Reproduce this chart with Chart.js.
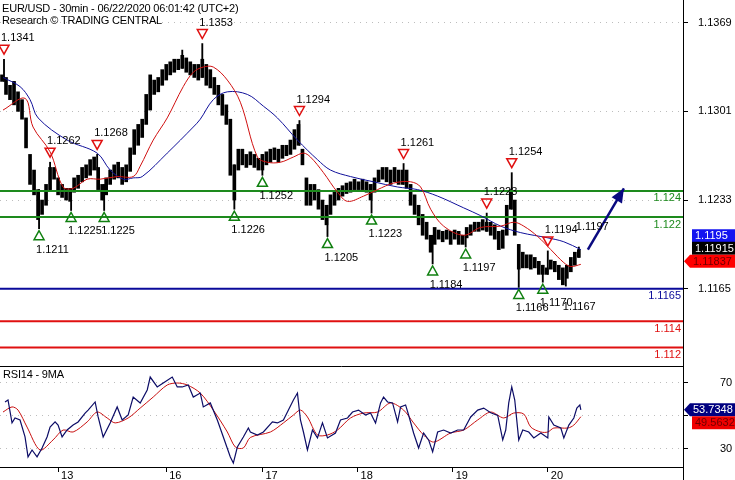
<!DOCTYPE html>
<html>
<head>
<meta charset="utf-8">
<title>EUR/USD 30min</title>
<script src="https://cdn.jsdelivr.net/npm/chart.js@4.4.1/dist/chart.umd.min.js"></script>
<style>
  html, body { margin: 0; padding: 0; background: #fff; }
  #chart { display: block; }
</style>
</head>
<body>
<canvas id="chart" width="735" height="480"></canvas>
<script>
// x unit = one hour slot since the first candle on screen
const dayTickHour = [14, 41, 65, 88.75, 112.5, 136.25];
const dayTickLabel = ['13', '16', '17', '18', '19', '20'];
const priceTicks = [1.1369, 1.1301, 1.1233, 1.1165];
const rsiTicks = [70, 50, 30];
const rsiTickLabel = ['70', '', '30'];

// candle bodies, one per hour slot
const bodyHigh = [
  1.1329, 1.1327, 1.1321, 1.1324, 1.1316, 1.1310, 1.1296, 1.1268, 1.1256, 1.1241,
  1.1233, 1.1245, 1.1258, 1.1258, 1.1250, 1.1245, 1.1242, 1.1242, 1.1250, 1.1252,
  1.1258, 1.1260, 1.1264, 1.1266, 1.1258, 1.1245, 1.1250, 1.1256, 1.1260, 1.1262,
  1.1258, 1.1260, 1.1273, 1.1287, 1.1291, 1.1295, 1.1314, 1.1329, 1.1325, 1.1327,
  1.1333, 1.1337, 1.1339, 1.1341, 1.1341, 1.1344, 1.1342, 1.1339, 1.1337, 1.1337,
  1.1341, 1.1337, 1.1333, 1.1327, 1.1321, 1.1314, 1.1306, 1.1295, 1.1260, 1.1272,
  1.1272, 1.1268, 1.1270, 1.1268, 1.1265, 1.1268, 1.1270, 1.1272, 1.1273, 1.1272,
  1.1275, 1.1275, 1.1279, 1.1287, 1.1291, 1.1272, 1.1250, 1.1245, 1.1245, 1.1241,
  1.1233, 1.1229, 1.1237, 1.1239, 1.1242, 1.1244, 1.1246, 1.1247, 1.1249, 1.1247,
  1.1249, 1.1247, 1.1245, 1.1250, 1.1256, 1.1258, 1.1258, 1.1256, 1.1258, 1.1256,
  1.1256, 1.1256, 1.1245, 1.1237, 1.1229, 1.1222, 1.1216, 1.1206, 1.1212, 1.1210,
  1.1209, 1.1210, 1.1209, 1.1210, 1.1209, 1.1206, 1.1212, 1.1214, 1.1216, 1.1216,
  1.1218, 1.1216, 1.1216, 1.1214, 1.1209, 1.1210, 1.1229, 1.1241, 1.1233, 1.1199,
  1.1193, 1.1191, 1.1191, 1.1189, 1.1186, 1.1183, 1.1181, 1.1187, 1.1186, 1.1183,
  1.1181, 1.1183, 1.1189, 1.1193, 1.1195
];
const bodyLow = [
  1.1324, 1.1314, 1.1310, 1.1306, 1.1301, 1.1295, 1.1273, 1.1245, 1.1237, 1.1218,
  1.1222, 1.1229, 1.1241, 1.1249, 1.1237, 1.1235, 1.1233, 1.1232, 1.1239, 1.1242,
  1.1247, 1.1250, 1.1252, 1.1256, 1.1241, 1.1233, 1.1237, 1.1245, 1.1249, 1.1250,
  1.1245, 1.1247, 1.1255, 1.1268, 1.1275, 1.1281, 1.1291, 1.1302, 1.1314, 1.1316,
  1.1321, 1.1325, 1.1329, 1.1331, 1.1333, 1.1334, 1.1331, 1.1329, 1.1327, 1.1325,
  1.1327, 1.1321, 1.1319, 1.1314, 1.1306, 1.1298, 1.1291, 1.1252, 1.1233, 1.1256,
  1.1260, 1.1258, 1.1260, 1.1258, 1.1256, 1.1256, 1.1260, 1.1262, 1.1264, 1.1262,
  1.1265, 1.1267, 1.1268, 1.1272, 1.1275, 1.1260, 1.1229, 1.1229, 1.1233, 1.1226,
  1.1218, 1.1214, 1.1222, 1.1229, 1.1233, 1.1236, 1.1238, 1.1239, 1.1241, 1.1241,
  1.1241, 1.1239, 1.1233, 1.1239, 1.1247, 1.1249, 1.1247, 1.1245, 1.1247, 1.1245,
  1.1245, 1.1242, 1.1229, 1.1222, 1.1214, 1.1206, 1.1203, 1.1193, 1.1199, 1.1203,
  1.1201, 1.1203, 1.1199, 1.1203, 1.1199, 1.1199, 1.1204, 1.1206, 1.1209, 1.1209,
  1.1210, 1.1209, 1.1206, 1.1203, 1.1195, 1.1196, 1.1206, 1.1226, 1.1206, 1.1180,
  1.1181, 1.1181, 1.1180, 1.1181, 1.1176, 1.1176, 1.1176, 1.1180, 1.1178, 1.1172,
  1.1168, 1.1173, 1.1178, 1.1183, 1.1189
];

// long shadows
const wickHour = [0.5, 9.25, 12, 17.25, 23.75, 25.5, 45, 50, 58, 65, 74.25, 81.25, 92.25, 100.25, 107.5, 115.75, 121, 127.25, 129, 135, 136.25, 140.75, 144];
const wickLow = [1.1324, 1.1211, 1.1241, 1.1225, 1.1256, 1.1225, 1.1334, 1.1327, 1.1226, 1.1252, 1.1275, 1.1205, 1.1223, 1.1245, 1.1184, 1.1197, 1.1209, 1.1226, 1.1166, 1.1170, 1.1176, 1.1167, 1.1189];
const wickHigh = [1.1341, 1.1241, 1.1262, 1.1242, 1.1268, 1.1245, 1.1348, 1.1353, 1.1260, 1.1268, 1.1294, 1.1229, 1.1245, 1.1261, 1.1206, 1.1206, 1.1223, 1.1254, 1.1199, 1.1183, 1.1194, 1.1181, 1.1197];
const lastClose = 1.11915;

const fastMaHour = [0.25, 5.75, 7.75, 12, 15.25, 17.75, 21.25, 24.5, 28.75, 32.75, 34.5, 37.75, 41.25, 45.25, 47.75, 50.25, 52.75, 56.25, 59.5, 63.75, 66.25, 69.5, 72.75, 75.25, 77, 80.25, 83.75, 86.25, 90.25, 93.75, 97.75, 102, 104.5, 107, 110.25, 115.25, 119.5, 124.5, 127.75, 130.25, 133.75, 137, 140.25, 142, 144.5];
const fastMa = [1.1302, 1.1311, 1.1289, 1.1270, 1.1243, 1.1242, 1.1249, 1.1249, 1.1251, 1.1251, 1.1259, 1.1279, 1.1296, 1.1320, 1.1331, 1.1335, 1.1335, 1.1325, 1.1308, 1.1266, 1.1262, 1.1262, 1.1266, 1.1269, 1.1266, 1.1254, 1.1239, 1.1232, 1.1236, 1.1241, 1.1246, 1.1247, 1.1243, 1.1226, 1.1213, 1.1206, 1.1212, 1.1213, 1.1216, 1.1213, 1.1205, 1.1195, 1.1185, 1.1182, 1.11837];

const slowMaHour = [0.25, 4.5, 7, 9, 16.25, 23.75, 27, 30.25, 32.75, 35, 41.25, 47.75, 49.5, 52.75, 56.25, 61.25, 65.25, 68.75, 73.75, 78.75, 82, 87, 92.75, 98.75, 103.75, 108.75, 115.25, 119.5, 124.5, 129.5, 136.25, 140.25, 144.5];
const slowMa = [1.1327, 1.1320, 1.1310, 1.1296, 1.1279, 1.1269, 1.1256, 1.1249, 1.1250, 1.1251, 1.1269, 1.1289, 1.1295, 1.1310, 1.1316, 1.1314, 1.1305, 1.1296, 1.1279, 1.1264, 1.1256, 1.1251, 1.1247, 1.1243, 1.1241, 1.1236, 1.1227, 1.1221, 1.1213, 1.1208, 1.1204, 1.1201, 1.1195];

// swing points
const highHour = [0.5, 12, 23.75, 50, 74.25, 100.25, 121, 127.25, 136.25];
const highPrice = [1.1341, 1.1262, 1.1268, 1.1353, 1.1294, 1.1261, 1.1223, 1.1254, 1.1194];
const lowHour = [9.25, 17.25, 25.5, 58, 65, 81.25, 92.25, 107.5, 115.75, 129, 135];
const lowPrice = [1.1211, 1.1225, 1.1225, 1.1226, 1.1252, 1.1205, 1.1223, 1.1184, 1.1197, 1.1166, 1.1170];
const openHighHour = [144];
const openHighPrice = [1.1197];
const openLowHour = [140.75];
const openLowPrice = [1.1167];

const levelValue = [1.124, 1.122, 1.1165, 1.114, 1.112];
const arrowHour = [146.25, 155.25];
const arrowPrice = [1.1195, 1.1242];

const rsiHour = [
  0.75, 1.5, 2.5, 3.25, 4.5, 5.75, 6.5, 7.5, 8.75, 10,
  11.25, 12, 13.25, 14, 15, 16.25, 17.75, 19, 20.75, 21.5,
  23.25, 24, 25.25, 27, 28.75, 30, 31.5, 32.75, 34.5, 36.25,
  37, 38.75, 40.25, 42.5, 43.75, 45, 46.5, 47.75, 49.5, 50.25,
  52, 53.75, 55.25, 57, 57.75, 58.75, 60.25, 61.5, 62, 63.75,
  65.25, 67.5, 68.75, 70.25, 71.5, 72.75, 73.75, 74.5, 75.25, 76.25,
  77.5, 78.75, 80, 81.25, 83.25, 84.5, 86.25, 87.5, 89, 90.75,
  92, 93.25, 94.5, 95.25, 96.25, 97.5, 98.75, 99.5, 100.75, 101.5,
  102.75, 104, 105.25, 106.5, 107.5, 108.75, 110.25, 112, 113.75, 115.25,
  117, 118.75, 120.25, 122, 123.75, 125, 125.75, 126.5, 127.25, 128,
  129, 130, 131.5, 132.75, 134.5, 136.25, 136.5, 137.75, 139.5, 140.25,
  141.5, 142.75, 143.5, 144.25, 144.5
];
const rsi = [
  58.5, 59.7, 45.8, 48.8, 47.6, 37.3, 25.2, 29.4, 25.2, 30.6,
  37.3, 43.3, 46.4, 44.5, 37.3, 41.5, 44.5, 46.4, 51.8, 53.6,
  58.5, 49.4, 37.3, 45.8, 55.5, 47.6, 50.6, 61.5, 57.9, 65.8,
  73.6, 67.6, 70, 73.6, 67.6, 67.6, 68.8, 61.5, 63.9, 55.5,
  57.9, 47.6, 37.3, 25.2, 21.5, 31.2, 37.3, 42.7, 40.3, 38.5,
  40.3, 46.4, 45.8, 47.6, 53.6, 59.7, 63.9, 47.6, 40.3, 29.4,
  41.5, 36.7, 45.8, 36.7, 39.7, 47.6, 48.8, 52.4, 53.6, 50.6,
  51.8, 45.8, 57.9, 61.5, 58.5, 57.9, 46.4, 55.5, 56.7, 50.6,
  39.7, 30.6, 39.7, 35.5, 28.2, 40.3, 41.5, 39.7, 41.5, 41.5,
  49.4, 53.6, 54.8, 52, 50.4, 35.5, 41.5, 57.9, 67.6, 59.7,
  35.5, 41.5, 40.3, 36.7, 39.7, 36.7, 49.4, 44.5, 42.7, 36.7,
  44.5, 48.8, 54.8, 56.7, 53.7348
];
const rsiMaHour = [0.25, 2.5, 4, 6.25, 9.5, 12.75, 15.25, 17.75, 21.25, 23.75, 26.25, 28.25, 31.5, 34.5, 37.75, 41.25, 43.75, 46.25, 49.5, 52.75, 56.25, 58.25, 60.25, 62, 67, 70.25, 72.75, 74.5, 76.25, 78.75, 81.25, 83.75, 87, 90.25, 93.75, 97, 100.25, 102.75, 105.25, 107.75, 112, 115.25, 118.75, 122, 125.25, 127.75, 130.25, 132, 134.5, 136.25, 137.75, 141.25, 142.75, 144.5];
const rsiMa = [52.4, 55.5, 53.6, 43.3, 29.4, 35.5, 41.5, 40.3, 46.4, 52.4, 48.8, 45.8, 48.8, 54.8, 61.5, 68.8, 70, 68.8, 63.9, 53.6, 40.3, 31.2, 30.6, 37, 40.3, 45.8, 50.6, 53.6, 49.4, 38.5, 38.5, 41.5, 48.8, 51.8, 52.4, 57.9, 53.6, 45.8, 38.5, 34.2, 39.7, 41.5, 47.6, 52.4, 48.8, 51.8, 51.2, 43.3, 40.3, 40.3, 42.7, 42.7, 44.5, 49.5632];

const X_MIN = -0.5, X_MAX = 170;
const FONT = 'Arial, "Liberation Sans", sans-serif';
const levelColor = ['#1d8a1d', '#1d8a1d', '#0a0a9a', '#e01010', '#e01010'];
const pts = (xs, ys) => xs.map((x, i) => ({ x, y: ys[i] }));

Chart.defaults.font.family = FONT;
Chart.defaults.font.size = 11;
Chart.defaults.color = '#000';

// fixed axis box, no extra padding from tick labels
const fixWidth = s => { s.width = 52; s.paddingTop = 0; s.paddingBottom = 0; };

function valueBox(ctx, text, cy, fill, ink, arrow) {
  const left = arrow ? 690 : 692;
  ctx.fillStyle = fill;
  ctx.beginPath();
  if (arrow) { ctx.moveTo(684, cy); ctx.lineTo(left, cy - 6.5); } else ctx.moveTo(left, cy - 6.5);
  ctx.lineTo(735, cy - 6.5);
  ctx.lineTo(735, cy + 6.5);
  ctx.lineTo(left, cy + 6.5);
  ctx.closePath();
  ctx.fill();
  ctx.fillStyle = ink;
  ctx.textAlign = 'left';
  ctx.textBaseline = 'middle';
  ctx.fillText(text, left + 3, cy + 0.5);
}

const overlay = {
  id: 'overlay',
  afterDatasetsDraw(chart) {
    const { ctx, chartArea, scales: { x, y } } = chart;
    ctx.save();
    ctx.font = '11px ' + FONT;
    ctx.textAlign = 'right';
    ctx.textBaseline = 'top';
    levelValue.forEach((v, i) => {
      ctx.fillStyle = levelColor[i];
      ctx.fillText(String(v), chartArea.right - 2, y.getPixelForValue(v) + 2);
    });

    // swing markers
    ctx.textAlign = 'left';
    ctx.textBaseline = 'alphabetic';
    ctx.lineWidth = 1.5;
    highHour.forEach((h, i) => {
      const px = x.getPixelForValue(h), py = y.getPixelForValue(highPrice[i]);
      ctx.strokeStyle = '#e01010';
      ctx.beginPath();
      ctx.moveTo(px, py - 5); ctx.lineTo(px - 5, py - 14); ctx.lineTo(px + 5, py - 14); ctx.closePath();
      ctx.stroke();
      ctx.fillStyle = '#000';
      ctx.fillText(highPrice[i].toFixed(4), px - 3, py - 18);
    });
    lowHour.forEach((h, i) => {
      const px = x.getPixelForValue(h), py = y.getPixelForValue(lowPrice[i]);
      ctx.strokeStyle = '#108010';
      ctx.beginPath();
      ctx.moveTo(px, py + 2); ctx.lineTo(px - 5, py + 11); ctx.lineTo(px + 5, py + 11); ctx.closePath();
      ctx.stroke();
      ctx.fillStyle = '#000';
      ctx.fillText(lowPrice[i].toFixed(4), px - 3, py + 24);
    });
    ctx.fillStyle = '#000';
    openHighHour.forEach((h, i) => {
      ctx.fillText(openHighPrice[i].toFixed(4), x.getPixelForValue(h) - 3, y.getPixelForValue(openHighPrice[i]) - 17);
    });
    openLowHour.forEach((h, i) => {
      ctx.fillText(openLowPrice[i].toFixed(4), x.getPixelForValue(h) - 3, y.getPixelForValue(openLowPrice[i]) + 24);
    });

    // arrow head
    const ax0 = x.getPixelForValue(arrowHour[0]), ay0 = y.getPixelForValue(arrowPrice[0]);
    const ax1 = x.getPixelForValue(arrowHour[1]), ay1 = y.getPixelForValue(arrowPrice[1]);
    const ang = Math.atan2(ay1 - ay0, ax1 - ax0);
    ctx.fillStyle = '#0a0a80';
    ctx.beginPath();
    ctx.moveTo(ax1, ay1);
    ctx.lineTo(ax1 - 14 * Math.cos(ang) + 6 * Math.sin(ang), ay1 - 14 * Math.sin(ang) - 6 * Math.cos(ang));
    ctx.lineTo(ax1 - 14 * Math.cos(ang) - 6 * Math.sin(ang), ay1 - 14 * Math.sin(ang) + 6 * Math.cos(ang));
    ctx.closePath();
    ctx.fill();
    ctx.restore();
  },
  afterDraw(chart) {
    const { ctx, chartArea, scales: { y, rsi: r } } = chart;
    ctx.save();
    // pane separators
    ctx.strokeStyle = '#000';
    ctx.lineWidth = 1;
    ctx.beginPath();
    ctx.moveTo(chartArea.left, Math.round(r.top) + 0.5);
    ctx.lineTo(chartArea.right, Math.round(r.top) + 0.5);
    ctx.moveTo(Math.round(chartArea.right) + 0.5, chartArea.bottom);
    ctx.lineTo(Math.round(chartArea.right) + 0.5, 480);
    ctx.stroke();

    // header
    ctx.font = '11px ' + FONT;
    ctx.fillStyle = '#000';
    ctx.textAlign = 'left';
    ctx.textBaseline = 'alphabetic';
    if ('letterSpacing' in ctx) ctx.letterSpacing = '-0.2px';
    ctx.fillText('EUR/USD - 30min - 06/22/2020 06:01:42 (UTC+2)', 2, 12);
    ctx.fillText('Research \u00A9 TRADING CENTRAL', 2, 24);
    ctx.fillText('RSI14 - 9MA', 3, r.top + 12);
    if ('letterSpacing' in ctx) ctx.letterSpacing = '0px';

    // last-value boxes
    const red = y.getPixelForValue(fastMa[fastMa.length - 1]) - 3;
    const blk = Math.min(y.getPixelForValue(lastClose), red - 13);
    const blu = Math.min(y.getPixelForValue(slowMa[slowMa.length - 1]), blk - 12.5);
    valueBox(ctx, String(slowMa[slowMa.length - 1]), blu, '#1414f0', '#fff', false);
    valueBox(ctx, String(lastClose), blk, '#000', '#fff', false);
    valueBox(ctx, String(fastMa[fastMa.length - 1]), red, '#ff0000', '#700000', true);

    const nav = r.getPixelForValue(rsi[rsi.length - 1]);
    const rma = Math.max(r.getPixelForValue(rsiMa[rsiMa.length - 1]), nav + 13);
    valueBox(ctx, String(rsi[rsi.length - 1]), nav, '#000080', '#fff', true);
    valueBox(ctx, String(rsiMa[rsiMa.length - 1]), rma, '#f00000', '#700000', false);
    ctx.restore();
  }
};

const datasets = [
  { type: 'line', data: pts(arrowHour, arrowPrice), borderColor: '#0a0a80', borderWidth: 2.5, pointRadius: 0, yAxisID: 'y', order: 1 },
  { type: 'line', data: pts(fastMaHour, fastMa), borderColor: '#d01010', borderWidth: 1, pointRadius: 0, tension: 0.35, yAxisID: 'y', order: 2 },
  { type: 'line', data: pts(slowMaHour, slowMa), borderColor: '#10109a', borderWidth: 1, pointRadius: 0, tension: 0.35, yAxisID: 'y', order: 2 },
  ...levelValue.map((v, i) => ({
    type: 'line', data: [{ x: X_MIN, y: v }, { x: X_MAX, y: v }], borderColor: levelColor[i],
    borderWidth: 2, pointRadius: 0, yAxisID: 'y', order: 3
  })),
  { type: 'bar', data: wickHour.map((h, i) => ({ x: h, y: [wickLow[i], wickHigh[i]] })), backgroundColor: '#000', barThickness: 1.2, grouped: false, yAxisID: 'y', order: 4 },
  { type: 'bar', data: bodyHigh.map((hi, i) => ({ x: i, y: [bodyLow[i], hi] })), backgroundColor: '#000', barThickness: 3, grouped: false, yAxisID: 'y', order: 4 },
  { type: 'line', data: pts(rsiMaHour, rsiMa), borderColor: '#c81010', borderWidth: 1, pointRadius: 0, tension: 0.3, yAxisID: 'rsi', order: 2 },
  { type: 'line', data: pts(rsiHour, rsi), borderColor: '#0c0c66', borderWidth: 1.2, pointRadius: 0, yAxisID: 'rsi', order: 1 }
];

new Chart(document.getElementById('chart'), {
  type: 'bar',
  data: { datasets },
  options: {
    responsive: false,
    animation: false,
    events: [],
    layout: { padding: 0 },
    plugins: { legend: { display: false }, tooltip: { enabled: false } },
    scales: {
      x: {
        type: 'linear', min: X_MIN, max: X_MAX, offset: false, position: 'bottom',
        afterBuildTicks: s => { s.ticks = dayTickHour.map(v => ({ value: v })); },
        ticks: { autoSkip: false, maxRotation: 0, align: 'start', labelOffset: 3, padding: -3, callback: (v, i) => dayTickLabel[i] },
        grid: { offset: false, drawOnChartArea: false, tickLength: 5, tickColor: '#000' },
        border: { color: '#000', width: 1 },
        afterFit: s => { s.height = 13; s.paddingLeft = 0; s.paddingRight = 0; }
      },
      y: {
        type: 'linear', position: 'right', stack: 'pane', stackWeight: 366,
        min: 1.110574, max: 1.138641,
        afterBuildTicks: s => { s.ticks = priceTicks.map(v => ({ value: v })); },
        ticks: { padding: 10, callback: v => v.toFixed(4) },
        grid: { color: '#bdbdbd', tickColor: '#000', tickLength: 5, tickBorderDash: [] },
        border: { color: '#000', width: 1, dash: [1, 5] },
        afterFit: fixWidth
      },
      rsi: {
        type: 'linear', position: 'right', stack: 'pane', stackWeight: 101,
        min: 19.09, max: 80.3,
        afterBuildTicks: s => { s.ticks = rsiTicks.map(v => ({ value: v })); },
        ticks: { padding: 32, callback: (v, i) => rsiTickLabel[i] },
        grid: { color: '#bdbdbd', tickColor: '#000', tickLength: 5, tickBorderDash: [] },
        border: { color: '#000', width: 1, dash: [1, 5] },
        afterFit: fixWidth
      }
    }
  },
  plugins: [overlay]
});
</script>
</body>
</html>
